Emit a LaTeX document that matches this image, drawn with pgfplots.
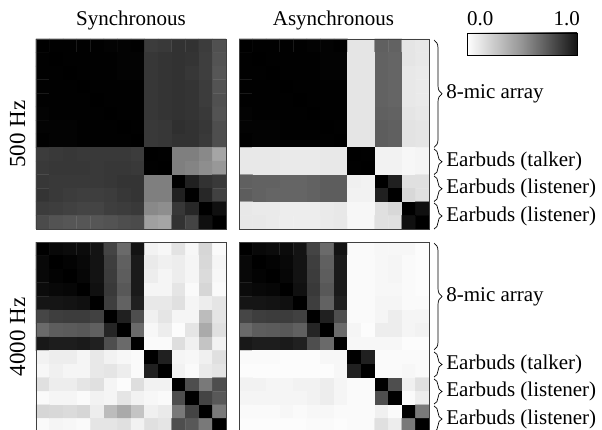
\documentclass[border=0pt]{standalone}
\usepackage{fontspec}
\setmainfont{Liberation Serif}
\usepackage{pgfplots}
\usepackage{pgfplotstable}
\pgfplotsset{compat=1.18}
\usetikzlibrary{decorations.pathreplacing}

% 500 Hz, synchronous (row-major 14x14)
\pgfplotstableread[row sep=\\]{c\\
1.00\\ 0.99\\ 0.99\\ 0.99\\ 0.99\\ 0.98\\ 0.98\\ 0.99\\ 0.76\\ 0.77\\ 0.80\\ 0.80\\ 0.76\\ 0.68\\
0.99\\ 1.00\\ 0.99\\ 0.99\\ 0.99\\ 0.99\\ 0.98\\ 0.98\\ 0.78\\ 0.79\\ 0.80\\ 0.79\\ 0.75\\ 0.67\\
0.99\\ 0.99\\ 1.00\\ 0.99\\ 0.99\\ 0.99\\ 0.98\\ 0.98\\ 0.78\\ 0.79\\ 0.80\\ 0.78\\ 0.75\\ 0.66\\
0.99\\ 0.99\\ 0.99\\ 1.00\\ 0.99\\ 0.99\\ 0.99\\ 0.99\\ 0.78\\ 0.79\\ 0.80\\ 0.79\\ 0.76\\ 0.67\\
0.99\\ 0.99\\ 0.99\\ 0.99\\ 1.00\\ 0.99\\ 0.99\\ 0.99\\ 0.78\\ 0.79\\ 0.80\\ 0.79\\ 0.76\\ 0.68\\
0.98\\ 0.99\\ 0.99\\ 0.99\\ 0.99\\ 1.00\\ 0.99\\ 0.99\\ 0.78\\ 0.79\\ 0.80\\ 0.79\\ 0.77\\ 0.67\\
0.98\\ 0.98\\ 0.98\\ 0.99\\ 0.99\\ 0.99\\ 1.00\\ 0.99\\ 0.77\\ 0.78\\ 0.81\\ 0.80\\ 0.78\\ 0.69\\
0.99\\ 0.98\\ 0.98\\ 0.99\\ 0.99\\ 0.99\\ 0.99\\ 1.00\\ 0.77\\ 0.78\\ 0.80\\ 0.80\\ 0.77\\ 0.69\\
0.76\\ 0.77\\ 0.78\\ 0.77\\ 0.77\\ 0.77\\ 0.77\\ 0.76\\ 1.00\\ 0.99\\ 0.50\\ 0.50\\ 0.46\\ 0.35\\
0.77\\ 0.78\\ 0.78\\ 0.78\\ 0.77\\ 0.78\\ 0.78\\ 0.77\\ 0.99\\ 1.00\\ 0.50\\ 0.48\\ 0.44\\ 0.40\\
0.78\\ 0.77\\ 0.77\\ 0.77\\ 0.77\\ 0.78\\ 0.79\\ 0.79\\ 0.50\\ 0.50\\ 1.00\\ 0.87\\ 0.80\\ 0.77\\
0.79\\ 0.77\\ 0.76\\ 0.75\\ 0.75\\ 0.76\\ 0.78\\ 0.79\\ 0.50\\ 0.50\\ 0.87\\ 1.00\\ 0.84\\ 0.74\\
0.76\\ 0.75\\ 0.74\\ 0.73\\ 0.73\\ 0.75\\ 0.76\\ 0.77\\ 0.46\\ 0.44\\ 0.78\\ 0.84\\ 1.00\\ 0.93\\
0.70\\ 0.67\\ 0.66\\ 0.66\\ 0.66\\ 0.67\\ 0.69\\ 0.70\\ 0.37\\ 0.35\\ 0.80\\ 0.73\\ 0.93\\ 1.00\\
}\tabA

% 500 Hz, asynchronous
\pgfplotstableread[row sep=\\]{c\\
1.00\\ 0.99\\ 0.99\\ 0.99\\ 0.99\\ 0.98\\ 0.98\\ 0.99\\ 0.10\\ 0.10\\ 0.62\\ 0.61\\ 0.10\\ 0.09\\
0.99\\ 1.00\\ 0.99\\ 0.99\\ 0.99\\ 0.99\\ 0.98\\ 0.98\\ 0.10\\ 0.10\\ 0.61\\ 0.60\\ 0.10\\ 0.09\\
0.99\\ 0.99\\ 1.00\\ 0.99\\ 0.99\\ 0.99\\ 0.98\\ 0.98\\ 0.10\\ 0.10\\ 0.61\\ 0.60\\ 0.09\\ 0.08\\
0.99\\ 0.99\\ 0.99\\ 1.00\\ 0.99\\ 0.99\\ 0.99\\ 0.99\\ 0.10\\ 0.10\\ 0.61\\ 0.60\\ 0.09\\ 0.08\\
0.99\\ 0.99\\ 0.99\\ 0.99\\ 1.00\\ 0.99\\ 0.99\\ 0.99\\ 0.10\\ 0.10\\ 0.61\\ 0.60\\ 0.09\\ 0.08\\
0.98\\ 0.99\\ 0.99\\ 0.99\\ 0.99\\ 1.00\\ 0.99\\ 0.99\\ 0.10\\ 0.10\\ 0.62\\ 0.61\\ 0.10\\ 0.09\\
0.98\\ 0.98\\ 0.98\\ 0.99\\ 0.99\\ 0.99\\ 1.00\\ 0.99\\ 0.10\\ 0.10\\ 0.63\\ 0.62\\ 0.11\\ 0.10\\
0.99\\ 0.98\\ 0.98\\ 0.99\\ 0.99\\ 0.99\\ 0.99\\ 1.00\\ 0.10\\ 0.10\\ 0.63\\ 0.62\\ 0.11\\ 0.10\\
0.09\\ 0.09\\ 0.09\\ 0.08\\ 0.08\\ 0.08\\ 0.09\\ 0.09\\ 1.00\\ 0.99\\ 0.05\\ 0.05\\ 0.03\\ 0.04\\
0.09\\ 0.09\\ 0.09\\ 0.08\\ 0.08\\ 0.08\\ 0.09\\ 0.09\\ 0.99\\ 1.00\\ 0.05\\ 0.05\\ 0.03\\ 0.04\\
0.62\\ 0.61\\ 0.61\\ 0.60\\ 0.60\\ 0.61\\ 0.63\\ 0.63\\ 0.06\\ 0.05\\ 1.00\\ 0.87\\ 0.12\\ 0.12\\
0.63\\ 0.61\\ 0.60\\ 0.60\\ 0.60\\ 0.61\\ 0.63\\ 0.63\\ 0.05\\ 0.05\\ 0.87\\ 1.00\\ 0.15\\ 0.12\\
0.09\\ 0.08\\ 0.08\\ 0.07\\ 0.07\\ 0.07\\ 0.08\\ 0.09\\ 0.03\\ 0.03\\ 0.12\\ 0.15\\ 1.00\\ 0.93\\
0.09\\ 0.09\\ 0.08\\ 0.07\\ 0.07\\ 0.07\\ 0.08\\ 0.09\\ 0.03\\ 0.03\\ 0.12\\ 0.12\\ 0.93\\ 1.00\\
}\tabB

% 4000 Hz, synchronous
\pgfplotstableread[row sep=\\]{c\\
1.00\\ 0.96\\ 0.95\\ 0.95\\ 0.92\\ 0.73\\ 0.58\\ 0.92\\ 0.05\\ 0.03\\ 0.11\\ 0.03\\ 0.16\\ 0.02\\
0.96\\ 1.00\\ 0.98\\ 0.96\\ 0.92\\ 0.75\\ 0.62\\ 0.89\\ 0.08\\ 0.06\\ 0.07\\ 0.04\\ 0.15\\ 0.04\\
0.96\\ 0.98\\ 1.00\\ 0.97\\ 0.92\\ 0.76\\ 0.63\\ 0.89\\ 0.07\\ 0.04\\ 0.07\\ 0.04\\ 0.14\\ 0.03\\
0.95\\ 0.96\\ 0.97\\ 1.00\\ 0.93\\ 0.77\\ 0.65\\ 0.89\\ 0.04\\ 0.04\\ 0.10\\ 0.02\\ 0.16\\ 0.02\\
0.91\\ 0.91\\ 0.92\\ 0.93\\ 1.00\\ 0.75\\ 0.61\\ 0.87\\ 0.09\\ 0.09\\ 0.12\\ 0.04\\ 0.07\\ 0.10\\
0.72\\ 0.75\\ 0.76\\ 0.76\\ 0.74\\ 1.00\\ 0.87\\ 0.69\\ 0.06\\ 0.10\\ 0.04\\ 0.04\\ 0.26\\ 0.10\\
0.58\\ 0.63\\ 0.64\\ 0.65\\ 0.62\\ 0.85\\ 1.00\\ 0.58\\ 0.03\\ 0.07\\ 0.01\\ 0.10\\ 0.33\\ 0.12\\
0.90\\ 0.88\\ 0.88\\ 0.89\\ 0.87\\ 0.69\\ 0.58\\ 1.00\\ 0.02\\ 0.02\\ 0.13\\ 0.06\\ 0.23\\ 0.05\\
0.05\\ 0.07\\ 0.07\\ 0.04\\ 0.09\\ 0.05\\ 0.03\\ 0.02\\ 1.00\\ 0.87\\ 0.04\\ 0.03\\ 0.06\\ 0.12\\
0.03\\ 0.06\\ 0.04\\ 0.04\\ 0.09\\ 0.10\\ 0.07\\ 0.02\\ 0.87\\ 1.00\\ 0.05\\ 0.02\\ 0.08\\ 0.10\\
0.12\\ 0.07\\ 0.07\\ 0.10\\ 0.12\\ 0.04\\ 0.01\\ 0.13\\ 0.05\\ 0.05\\ 1.00\\ 0.69\\ 0.52\\ 0.69\\
0.02\\ 0.04\\ 0.04\\ 0.02\\ 0.05\\ 0.04\\ 0.10\\ 0.05\\ 0.03\\ 0.02\\ 0.69\\ 1.00\\ 0.73\\ 0.65\\
0.16\\ 0.15\\ 0.14\\ 0.16\\ 0.07\\ 0.26\\ 0.33\\ 0.23\\ 0.06\\ 0.08\\ 0.52\\ 0.73\\ 1.00\\ 0.52\\
0.02\\ 0.04\\ 0.03\\ 0.02\\ 0.10\\ 0.10\\ 0.12\\ 0.05\\ 0.12\\ 0.10\\ 0.69\\ 0.65\\ 0.52\\ 1.00\\
}\tabC

% 4000 Hz, asynchronous
\pgfplotstableread[row sep=\\]{c\\
1.00\\ 0.96\\ 0.95\\ 0.95\\ 0.92\\ 0.73\\ 0.58\\ 0.92\\ 0.02\\ 0.02\\ 0.03\\ 0.03\\ 0.03\\ 0.01\\
0.96\\ 1.00\\ 0.98\\ 0.96\\ 0.92\\ 0.75\\ 0.62\\ 0.89\\ 0.02\\ 0.02\\ 0.03\\ 0.04\\ 0.02\\ 0.01\\
0.96\\ 0.98\\ 1.00\\ 0.97\\ 0.92\\ 0.76\\ 0.63\\ 0.89\\ 0.02\\ 0.02\\ 0.03\\ 0.04\\ 0.02\\ 0.01\\
0.95\\ 0.96\\ 0.97\\ 1.00\\ 0.93\\ 0.77\\ 0.65\\ 0.89\\ 0.02\\ 0.02\\ 0.03\\ 0.03\\ 0.02\\ 0.01\\
0.91\\ 0.91\\ 0.92\\ 0.93\\ 1.00\\ 0.75\\ 0.61\\ 0.87\\ 0.02\\ 0.02\\ 0.04\\ 0.04\\ 0.02\\ 0.02\\
0.72\\ 0.75\\ 0.76\\ 0.76\\ 0.74\\ 1.00\\ 0.87\\ 0.69\\ 0.02\\ 0.02\\ 0.04\\ 0.07\\ 0.04\\ 0.04\\
0.58\\ 0.63\\ 0.64\\ 0.65\\ 0.62\\ 0.85\\ 1.00\\ 0.58\\ 0.04\\ 0.01\\ 0.07\\ 0.07\\ 0.04\\ 0.05\\
0.90\\ 0.88\\ 0.88\\ 0.89\\ 0.87\\ 0.69\\ 0.58\\ 1.00\\ 0.03\\ 0.03\\ 0.03\\ 0.03\\ 0.01\\ 0.01\\
0.02\\ 0.02\\ 0.02\\ 0.01\\ 0.01\\ 0.01\\ 0.03\\ 0.03\\ 1.00\\ 0.87\\ 0.02\\ 0.02\\ 0.02\\ 0.02\\
0.01\\ 0.01\\ 0.01\\ 0.01\\ 0.01\\ 0.01\\ 0.01\\ 0.03\\ 0.87\\ 1.00\\ 0.02\\ 0.02\\ 0.03\\ 0.02\\
0.05\\ 0.05\\ 0.04\\ 0.04\\ 0.05\\ 0.05\\ 0.07\\ 0.04\\ 0.02\\ 0.02\\ 1.00\\ 0.69\\ 0.06\\ 0.12\\
0.04\\ 0.04\\ 0.04\\ 0.04\\ 0.04\\ 0.05\\ 0.07\\ 0.04\\ 0.02\\ 0.02\\ 0.69\\ 1.00\\ 0.02\\ 0.07\\
0.02\\ 0.02\\ 0.02\\ 0.03\\ 0.02\\ 0.03\\ 0.03\\ 0.02\\ 0.02\\ 0.02\\ 0.06\\ 0.02\\ 1.00\\ 0.52\\
0.01\\ 0.01\\ 0.01\\ 0.01\\ 0.01\\ 0.02\\ 0.02\\ 0.01\\ 0.02\\ 0.02\\ 0.12\\ 0.07\\ 0.52\\ 1.00\\
}\tabD

\pgfplotsset{
  heat/.style={
    scale only axis, width=190pt, height=190pt, anchor=north west,
    xmin=-0.5, xmax=13.5, ymin=-0.5, ymax=13.5, y dir=reverse,
    enlargelimits=false, xtick=\empty, ytick=\empty,
    axis line style={draw=black!75, line width=0.8pt},
    colormap={bw}{color=(white) color=(black)},
    point meta min=0, point meta max=1,
    axis on top,
  },
}
\newcommand{\heatplot}[1]{\addplot[matrix plot*, mesh/cols=14, point meta=\thisrow{c}]
  table[x index=0, y index=0,
        x expr={\coordindex-14*floor((\coordindex+0.5)/14)},
        y expr={floor((\coordindex+0.5)/14)}] {#1};}

\begin{document}
\begin{tikzpicture}[x=1pt, y=1pt, every node/.style={font=\fontsize{21}{25}\selectfont}]
\useasboundingbox (0,0) rectangle (602,-430);

\begin{axis}[heat, at={(36pt,-39pt)}]
\heatplot{\tabA}
\end{axis}
\begin{axis}[heat, at={(239pt,-39pt)}]
\heatplot{\tabB}
\end{axis}
\begin{axis}[heat, at={(36pt,-242pt)}]
\heatplot{\tabC}
\end{axis}
\begin{axis}[heat, at={(239pt,-242pt)}]
\heatplot{\tabD}
\end{axis}

% titles
\node[anchor=base, inner sep=0] at (131,-26) {Synchronous};
\node[anchor=base, inner sep=0] at (333.5,-26) {Asynchronous};
\node[anchor=base, inner sep=0, rotate=90, font=\fontsize{23}{27}\selectfont] at (25,-134) {500 Hz};
\node[anchor=base, inner sep=0, rotate=90, font=\fontsize{23}{27}\selectfont] at (25,-337) {4000 Hz};

% colour bar
\shade[left color=white, right color=black!92, middle color=black!42] (467,-33) rectangle (577,-55);
\draw[black, line width=0.8pt] (467,-33) rectangle (577,-55);
\node[anchor=base west, inner sep=0] at (467,-26) {0.0};
\node[anchor=base east, inner sep=0] at (580,-26) {1.0};

% braces
\begin{scope}[decoration={brace, amplitude=8pt}, line width=0.7pt]
\foreach \top/\bot/\lab in {40/147.5/{8-mic array}, 149/174.5/{Earbuds (talker)}, 176/201.5/{Earbuds (listener)}, 203/229/{Earbuds (listener)},
                             243/350/{8-mic array}, 352/377/{Earbuds (talker)}, 379/404/{Earbuds (listener)}, 406/432/{Earbuds (listener)}}{
  \draw[decorate] (434,-\top) -- (434,-\bot);
  \node[anchor=west, inner sep=0] at (446,{-(\top+\bot)/2}) {\lab};
}
\end{scope}
\end{tikzpicture}
\end{document}
